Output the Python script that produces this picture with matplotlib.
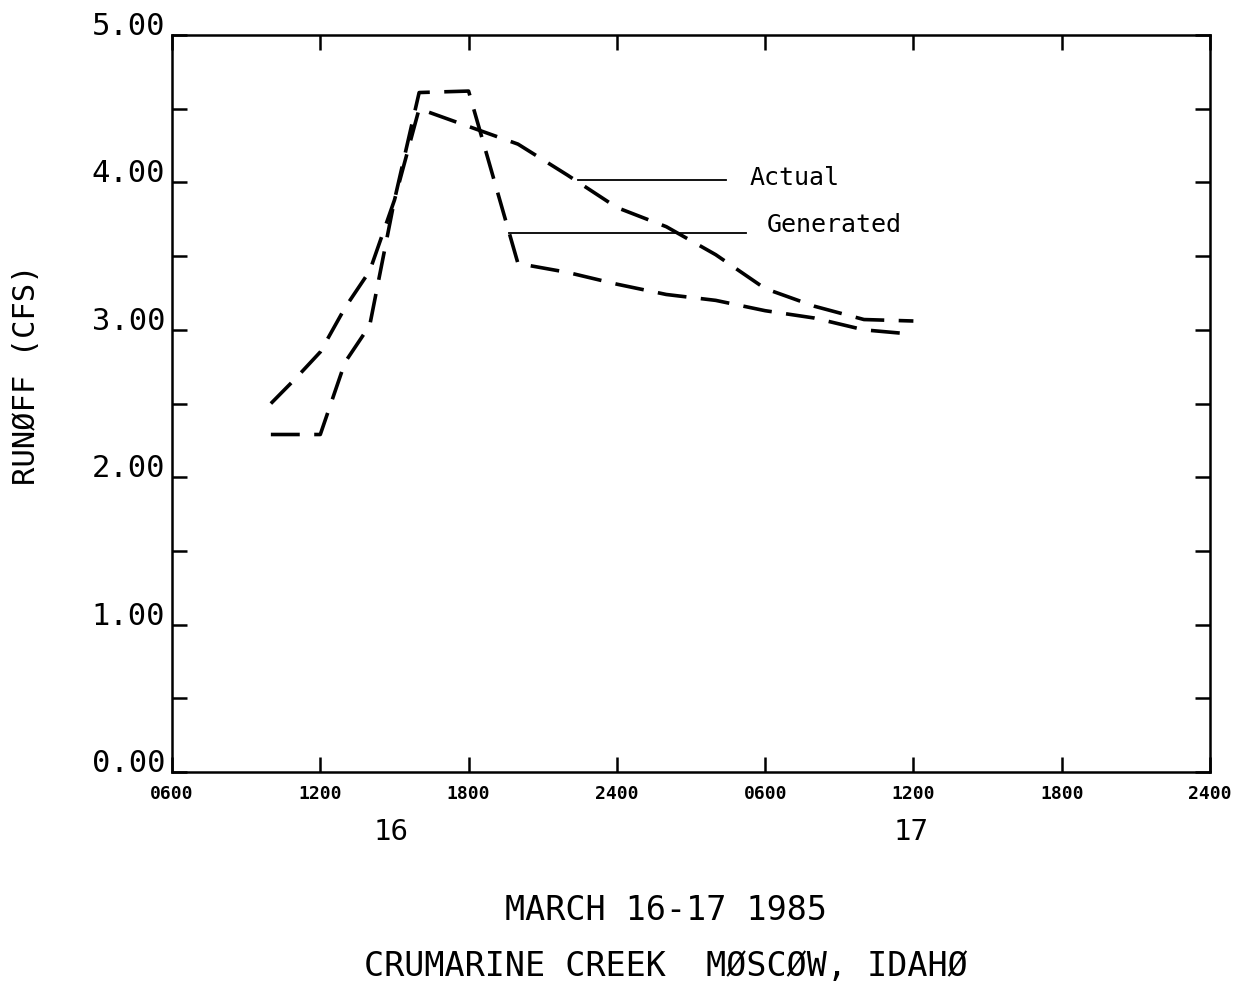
import matplotlib
matplotlib.use("Agg")
import matplotlib.pyplot as plt
import matplotlib.transforms as mtransforms

# ---- data (hours after 0600, March 16) ----
actual_hours = [4, 5, 6, 7, 8, 9, 10, 12, 14, 16, 18, 20, 22, 24, 26, 28, 30]
actual_cfs = [2.50, 2.67, 2.85, 3.15, 3.40, 3.88, 4.50, 4.38, 4.26, 4.05, 3.83,
              3.70, 3.51, 3.28, 3.16, 3.07, 3.06]

generated_hours = [4, 6, 7, 8, 9, 10, 12, 14, 16, 18, 20, 22, 24, 26, 28, 30]
generated_cfs = [2.29, 2.29, 2.78, 3.03, 3.88, 4.61, 4.62, 3.45, 3.39, 3.31,
                 3.24, 3.20, 3.13, 3.08, 3.00, 2.97]

x_tick_hours = [0, 6, 12, 18, 24, 30, 36, 42]
x_tick_labels = ["0600", "1200", "1800", "2400", "0600", "1200", "1800", "2400"]
y_major = [0, 1, 2, 3, 4, 5]
y_major_labels = ["0.00", "1.00", "2.00", "3.00", "4.00", "5.00"]
y_minor = [0.5, 1.5, 2.5, 3.5, 4.5]

day_labels = ["16", "17"]
day_positions = [8.85, 29.9]

MONO = ["DejaVu Sans Mono"]

fig = plt.figure(figsize=(12.42, 9.82), dpi=100)
ax = fig.add_axes([0.1385, 0.2138, 0.8357, 0.7505])

dash = (0, (8, 4))
ax.plot(actual_hours, actual_cfs, color="black", lw=2.6, linestyle=dash)
ax.plot(generated_hours, generated_cfs, color="black", lw=2.6, linestyle=dash)

ax.set_xlim(0, 42)
ax.set_ylim(0, 5)

ax.set_xticks(x_tick_hours)
ax.set_xticklabels(x_tick_labels, family=MONO, fontsize=13, fontweight="bold")
ax.set_yticks(y_major)
ax.set_yticklabels(y_major_labels, family=MONO, fontsize=22)
ax.set_yticks(y_minor, minor=True)
for lab in ax.get_yticklabels():
    lab.set_verticalalignment("baseline")

ax.tick_params(axis="both", which="both", direction="in", length=11, width=1.8,
               top=True, right=True, color="black")
ax.tick_params(axis="x", pad=9)
ax.tick_params(axis="y", pad=5)
for sp in ax.spines.values():
    sp.set_linewidth(1.8)

# annotation leader lines and labels
ax.plot([16.42, 22.42], [4.02, 4.02], color="black", lw=1.3)
ax.text(23.35, 4.03, "Actual", family=MONO, fontsize=18, va="center", ha="left")
ax.plot([13.62, 23.23], [3.66, 3.66], color="black", lw=1.3)
ax.text(24.08, 3.71, "Generated", family=MONO, fontsize=18, va="center", ha="left")

# day labels
trans = mtransforms.blended_transform_factory(ax.transData, ax.transAxes)
for lbl, pos in zip(day_labels, day_positions):
    ax.text(pos, -0.081, lbl, transform=trans, family=MONO, fontsize=21,
            ha="center", va="center")

fig.text(0.021, 0.618, "RUNØFF (CFS)", rotation=90, family=MONO, fontsize=22,
         ha="center", va="center")
fig.text(0.536, 0.0733, "MARCH 16-17 1985", family=MONO, fontsize=24,
         ha="center", va="center")
fig.text(0.536, 0.0153, "CRUMARINE CREEK  MØSCØW, IDAHØ", family=MONO,
         fontsize=24, ha="center", va="center")

fig.savefig("out.png", dpi=100, facecolor="white")
